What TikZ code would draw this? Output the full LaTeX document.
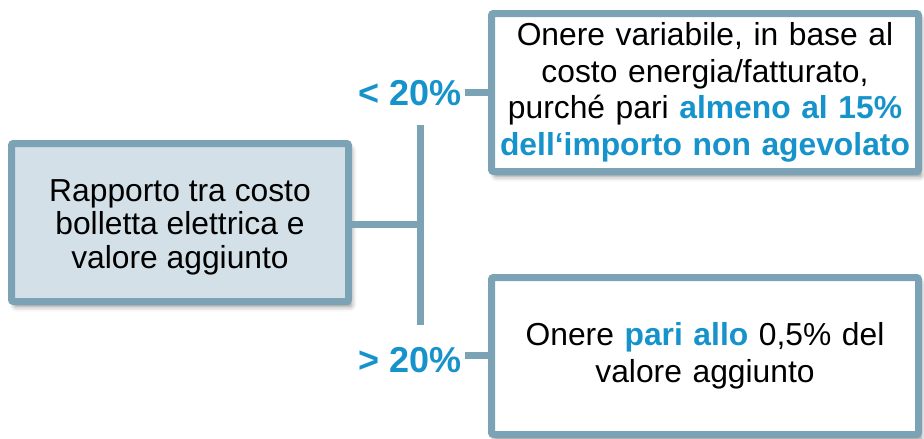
\documentclass[tikz,border=0pt]{standalone}
\usepackage{fontspec}
\setmainfont{Liberation Sans}
\usetikzlibrary{shadows.blur}
\definecolor{frame}{HTML}{7BA3B5}
\definecolor{boxfill}{HTML}{D4E0E7}
\definecolor{accent}{HTML}{1793CB}
\begin{document}
\begin{tikzpicture}[x=1pt,y=-1pt,
  box/.style={draw=frame, line width=7pt, rounded corners=2pt, inner sep=0pt,
    align=center, text=black, fill=white,
    blur shadow={shadow xshift=3pt, shadow yshift=-5pt, shadow blur radius=5pt, shadow opacity=45}},
  wire/.style={draw=frame, line width=7pt},
  pct/.style={text=accent, font=\fontsize{36}{40}\selectfont\bfseries, inner sep=0pt}]
\useasboundingbox (0,0) rectangle (924,439);
\node[box, fill=boxfill, minimum width=337pt, minimum height=158pt] (src) at (180,222.5) {};
\node[align=center, inner sep=0pt, font=\fontsize{31.8}{33.5}\selectfont] (srctxt) at (180,227)
  {Rapporto tra costo\\bolletta elettrica e\\valore aggiunto};
\node[box, minimum width=427pt, minimum height=158pt, text width=420pt,
  font=\fontsize{31.8}{36.5}\selectfont] (top) at (705,92.5)
  {Onere variabile, in base al\\costo energia/fatturato,\\purché pari \textcolor{accent}{\bfseries almeno al 15\%}\\\textcolor{accent}{\bfseries dell‘importo non agevolato}};
\node[box, minimum width=427pt, minimum height=157pt, text width=420pt,
  font=\fontsize{31.8}{37}\selectfont] (bot) at (705,356)
  {Onere \textcolor{accent}{\bfseries pari allo} 0,5\% del\\valore aggiunto};
\coordinate (j) at (420,224);
\coordinate (vt) at (420,125);
\coordinate (vb) at (420,325);
\draw[wire] (src.east |- j) -- (j);
\draw[wire] (vt) -- (vb);
\node[pct] (lo) at (410,93) {< 20\%};
\node[pct] (hi) at (410,360) {> 20\%};
\coordinate (lc) at ([xshift=3pt,yshift=1pt]lo.east);
\coordinate (hc) at ([xshift=3pt,yshift=5pt]hi.east);
\draw[wire] (lc) -- (lc -| top.west);
\draw[wire] (hc) -- (hc -| bot.west);
\end{tikzpicture}
\end{document}
